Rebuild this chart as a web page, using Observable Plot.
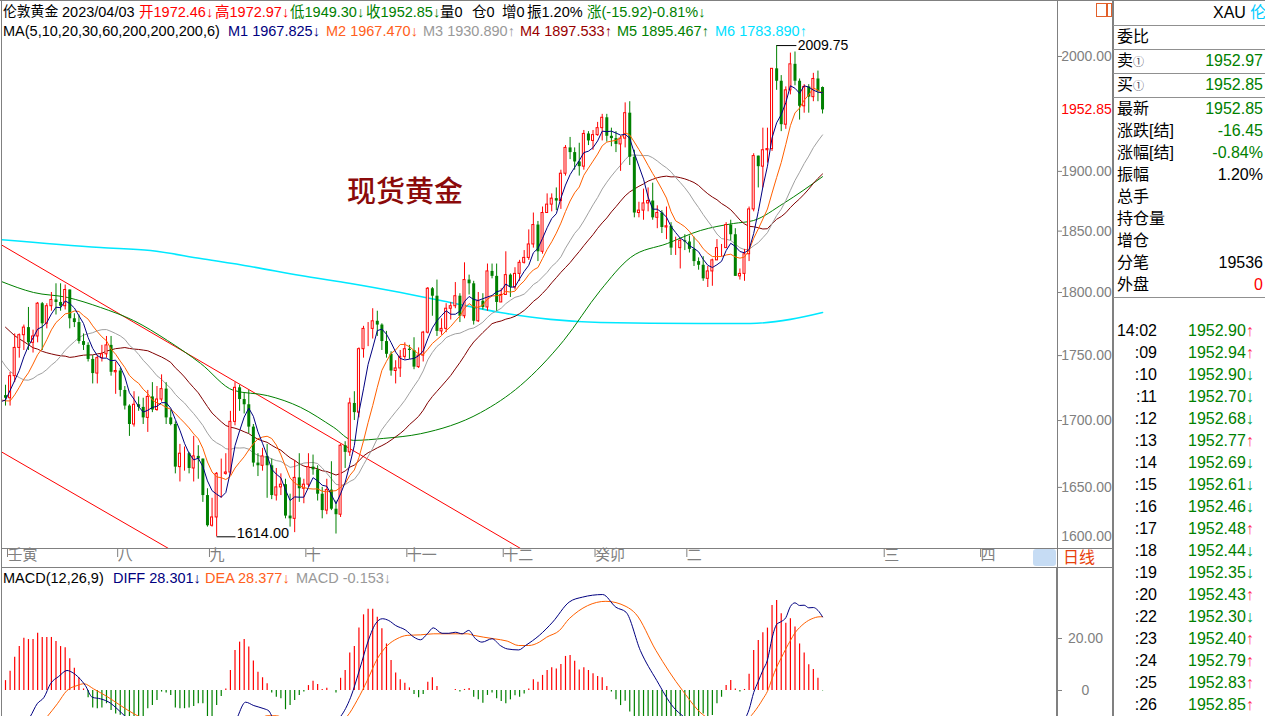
<!DOCTYPE html>
<html><head><meta charset="utf-8">
<script src="https://cdn.jsdelivr.net/npm/d3@7"></script>
<script src="https://cdn.jsdelivr.net/npm/@observablehq/plot@0.6"></script>
<style>
body{margin:0;background:#fff;}
#root{position:relative;width:1265px;height:716px;overflow:hidden;background:#fff;font-family:"Liberation Sans",Arial,"Noto Sans CJK SC",sans-serif;}
.t{position:absolute;white-space:nowrap;}
.ln{position:absolute;background:#808080;}
.abs{position:absolute;left:0;top:0;}
</style></head>
<body><div id="root"></div>
<script>
// ---------------- data ----------------
// closes before the first visible candle (only used by the moving averages)
const priorClose = [1834,1857,1840,1838,1832,1838,1822,1827,1823,1821,1817,1807,1811,1808,1764,1739,1740,1742,1734,1725,1735,1709,1708,1709,1711,1697,1718,1727,1719];
const open = [
1719,1717,1734,1756,1766,1772,1760,1765,1791,1775,
1789,1794,1792,1789,1802,1779,1776,1761,1758,1747,
1736,1748,1751,1758,1737,1738,1723,1711,1697,1712,
1710,1702,1718,1708,1716,1724,1702,1697,1665,1675,
1675,1664,1673,1671,1644,1622,1628,1660,1660,1661,
1699,1725,1716,1712,1695,1668,1666,1673,1666,1644,
1650,1652,1629,1627,1657,1649,1652,1665,1663,1645,
1633,1648,1634,1630,1681,1676,1713,1706,1755,1771,
1771,1777,1774,1761,1751,1738,1740,1749,1755,1754,
1741,1750,1768,1803,1797,1769,1771,1787,1789,1797,
1781,1810,1807,1777,1793,1788,1817,1813,1792,1798,
1814,1804,1815,1824,1828,1839,1855,1833,1865,1872,
1877,1875,1898,1920,1916,1908,1904,1932,1926,1931,
1937,1946,1930,1928,1923,1928,1950,1912,1865,1867,
1873,1875,1861,1865,1853,1854,1836,1836,1842,1841,
1835,1825,1822,1811,1817,1826,1836,1836,1855,1847,
1813,1815,1831,1868,1913,1904,1918,1919,1989,1978,
1940,1970,1993,1978,1956,1973,1964,1980,1972.46];
const high = [
1727,1737,1767,1767,1774,1788,1770,1792,1792,1791,
1800,1807,1807,1806,1802,1783,1782,1767,1760,1750,
1750,1758,1765,1765,1745,1740,1726,1712,1722,1718,
1717,1723,1729,1726,1735,1729,1708,1699,1682,1680,
1676,1688,1681,1671,1649,1642,1661,1671,1675,1707,
1729,1727,1721,1723,1697,1675,1679,1682,1671,1664,
1660,1656,1645,1670,1675,1656,1675,1674,1666,1650,
1656,1669,1640,1682,1684,1717,1722,1756,1773,1776,
1787,1785,1775,1769,1753,1746,1754,1760,1758,1764,
1756,1769,1804,1804,1810,1779,1791,1792,1808,1799,
1824,1814,1809,1800,1799,1823,1823,1823,1803,1833,
1815,1820,1826,1834,1851,1865,1858,1870,1881,1881,
1886,1901,1922,1929,1920,1924,1935,1934,1935,1942,
1949,1949,1937,1934,1930,1959,1960,1918,1874,1885,
1886,1890,1871,1867,1870,1857,1845,1843,1847,1846,
1845,1828,1829,1821,1827,1843,1839,1857,1859,1852,
1819,1835,1870,1915,1913,1937,1937,1989,2009.75,1983,
1973,2003,2004,1980,1975,1975,1985,1987,1972.97];
const low = [
1711,1711,1729,1748,1754,1754,1752,1760,1754,1771,
1785,1782,1785,1786,1771,1772,1759,1754,1745,1728,
1728,1745,1748,1734,1720,1718,1708,1688,1695,1707,
1697,1691,1706,1707,1714,1697,1696,1660,1654,1662,
1660,1654,1656,1639,1621,1621,1614,1642,1659,1659,
1696,1707,1705,1690,1665,1658,1662,1642,1641,1640,
1644,1627,1621,1617,1639,1638,1650,1659,1640,1627,
1630,1633,1616,1628,1664,1673,1700,1702,1748,1757,
1763,1765,1754,1748,1734,1728,1733,1747,1747,1739,
1740,1745,1767,1781,1765,1766,1768,1778,1787,1776,
1779,1798,1774,1776,1786,1785,1811,1785,1792,1798,
1796,1802,1809,1823,1826,1836,1825,1831,1865,1866,
1867,1868,1896,1910,1901,1896,1901,1922,1918,1930,
1926,1925,1921,1916,1900,1920,1905,1861,1861,1859,
1866,1859,1852,1848,1843,1830,1830,1819,1834,1832,
1821,1818,1809,1804,1805,1826,1829,1836,1842,1813,
1810,1809,1825,1866,1886,1886,1907,1917,1970,1934,
1936,1966,1974,1944,1950,1950,1960,1960,1949.30];
const close = [
1717,1734,1756,1766,1772,1760,1765,1791,1775,1789,
1794,1792,1789,1802,1779,1776,1761,1758,1747,1736,
1748,1751,1758,1737,1738,1723,1711,1697,1712,1710,
1702,1718,1708,1716,1724,1702,1697,1665,1675,1675,
1664,1673,1671,1644,1622,1628,1660,1660,1661,1699,
1725,1716,1712,1695,1668,1666,1673,1666,1644,1650,
1652,1629,1627,1657,1649,1652,1665,1663,1645,1633,
1648,1634,1630,1681,1676,1713,1706,1755,1771,1771,
1777,1774,1761,1751,1738,1740,1749,1755,1754,1741,
1750,1768,1803,1797,1769,1771,1787,1789,1797,1781,
1810,1807,1777,1793,1788,1817,1813,1792,1798,1814,
1804,1815,1824,1828,1839,1855,1833,1865,1872,1877,
1875,1898,1920,1916,1908,1904,1932,1926,1931,1937,
1946,1930,1928,1923,1928,1950,1912,1865,1867,1873,
1875,1861,1865,1853,1854,1836,1836,1842,1841,1835,
1825,1822,1811,1817,1826,1836,1836,1855,1847,1813,
1815,1831,1868,1913,1904,1918,1919,1989,1978,1940,
1970,1993,1978,1956,1973,1964,1980,1969,1952.85];

// MA60 and MA200 (candle index, price)
const ma60Idx = [-1,6.1,13.5,20.7,27.9,35.3,42.5,49.7,57.1,64.3,71.5,75.8,82.4,90.4,103.5,112.2,121.6,129.6,136.2,144.2,151.4,158.6,163,169.5,178];
const ma60Val = [1809,1800,1796,1788,1777.6,1761.8,1743.9,1723,1719,1710,1694.8,1685,1686.5,1690,1706,1726.8,1761.8,1801.7,1828.4,1839.8,1850.5,1856.3,1858.8,1873,1895.5];
const ma200Idx = [-1,20.7,31.6,42.5,53.4,64.3,75.2,86.1,96.9,107.8,118.7,129.6,151.4,162.3,171,178];
const ma200Val = [1843,1836.5,1834,1827.5,1821,1813.7,1807.3,1800,1792,1784,1778.5,1776.1,1775.3,1775.3,1778.5,1784];

// red channel lines (candle index, price)
const upperLineIdx = [-1,113], upperLineVal = [1838.9,1604.1];
const lowerLineIdx = [-1,37],  lowerLineVal = [1676.6,1602.8];

// MACD histogram per candle, DIFF/DEA read at sample points
const macdHist = [
3.8,7.4,12.8,16.9,20.1,19.6,19.6,22,20.4,20.4,
20.4,18.8,16.9,16.4,12.2,8.6,4.9,0.6,-2.8,-6.7,
-7,-6.7,-5.1,-7.7,-9,-9.5,-11,-12,-12,-11.5,
-10.5,-7,-5.8,-3.8,-0.6,-1,-1.9,-6.7,-7,-7,
-6.7,-6.2,-5.1,-5.1,-10.5,-11,-5.8,-2.3,0.6,7.7,
15.4,18.6,19.6,16.7,11.3,7,4.9,2.6,-1,-2.6,
-3.2,-7.4,-5.8,-3.8,-1.9,-0.6,1.9,3.6,2.3,0.4,
0.9,0,-1,4.7,7.7,14.4,16.9,24,29.1,31.2,
31.2,28.2,23.7,17.9,11.5,6.7,4.1,2.8,1,-1.5,
-2.8,-1.5,3.2,4.9,1.5,0,0,0,0.4,-0.6,
0.4,0.8,-2.6,-3.6,-4.9,-1.9,-1,-3.2,-4.2,-5.1,
-3.6,-2,-2.6,-1.3,0.6,4.1,3.2,5.8,7.7,8.7,
8.3,10,13.1,13.5,11.2,7.9,8.7,7.7,6.4,5.4,
4.9,1.5,-0.6,-3.6,-5.8,-4.1,-8.3,-12,-16,-18,
-20,-22,-23,-23,-22,-22,-21,-20,-17,-15,
-13,-11,-9,-10,-9.6,-5.1,-2.6,1.9,3.8,0.6,
-0.6,0.4,6.2,15.4,19.2,22.2,24,32.7,34.6,29.5,
25.9,27.6,24.4,17.9,14.4,9.9,8.1,4.7,-0.153];
const diffIdx = [0,3,5.4,6.9,8.4,9.8,11.6,13.4,14.5,16,17.4,18.9,20.7,22.9,24.3,26.1,28.5,32,37,42,45,47,49,50.6,52.3,54.1,56.3,57.4,58.1,60,63,66,69,71,73,75.2,77.3,78.8,80.6,82.1,83.5,85,87.1,89,90.4,91.9,93.2,95.1,96.6,98,99.5,100.9,102.4,103.8,106,107.8,109.3,111.8,113.3,116.3,119.2,122.8,125.7,130.1,133,135.2,138.3,141.9,145.5,147.7,150,152,154,156,158,160,161,162,163,164,165,166,167,168,169,170,171,172,173,174,175,176,177,178];
const diffVal = [-22,-15,-10,-5.1,-2.6,2.6,5.4,7.7,7,4.9,1.9,-2.6,-3.2,-4.9,-7,-10,-14,-17,-20,-24,-26,-25,-18,-10,-4.5,-5.8,-7,-7.9,-10,-12,-14,-13,-13.5,-12.5,-10,-2.6,9,17.9,25.6,27.6,26.9,25,23.3,20.5,19.5,21.8,24.1,22,22,22.4,21.8,23.1,19.9,18.6,19.9,17.3,16,15.6,17.3,21.2,26.3,34,35.9,36.9,32,30.1,15.4,3.8,-6.4,-10,-13,-14,-16,-14,-12,-12,-11,-7.3,-0.8,3.5,7.8,11.7,20.1,25.4,26.5,28,32.3,33.7,32.7,32.8,31.8,31.9,30.8,28.3];
const deaIdx = [0,3,5,9.1,11.3,13.4,15.6,17.1,19.2,22.1,25.1,28,29.1,32,37,42,46,49,51,53,55,57,59,61,63,66,69,72,74.4,76.6,78.8,81,83.2,85.3,87.5,90.4,93.3,100.6,102,106.4,109.3,111.8,114,116.3,117.9,120.7,122.8,130.8,135.2,137.3,141.7,147.5,152.5,154,156,158,160,162,163,164,165,166,167,168,169,170,171,172,173,174,175,176,177,178];
const deaVal = [-25,-22,-18,-10,-5.1,0,1.9,2.6,0.6,-2.3,-5.8,-9,-10,-13,-16,-21,-24,-22,-19.4,-15.1,-11.9,-9.7,-9.7,-11,-12,-13,-13.5,-12.5,-10,-3.8,3.8,12.2,17.3,19.9,21.2,21.4,21.8,21.8,21.2,19.9,19,17.3,17.3,18.6,20.5,23.1,27.6,34.3,32.3,29.5,15.4,0,-10,-11.1,-12,-11.3,-11.25,-10.4,-8.5,-6.1,-3.3,-0.3,4.5,9,12.5,16,19.2,22.2,24.2,25.8,27,27.8,28.3,28.38];

// axes
const priceTicks = [1650,1700,1750,1800,1850,1900,2000];
const monthTickIdx = [0,24,44,65,87,108,128,148,191,212];
const monthLabels = ["壬寅","八","九","十","十一","十二","癸卯","二","三","四"];
const macdTicks = [0,20];
const lastPrice = 1952.85;
const highMark = {i:168, p:2009.75};
const lowMark = {i:46, p:1614.00};

// ---------------- drawing ----------------
const root = document.getElementById("root");
const FONT = '"Liberation Sans",Arial,"Noto Sans CJK SC",sans-serif';
const RED = "#ff0000", GREEN = "#008000";
const xDomain = [-0.654, 229.19];

const bars = close.map((c,i)=>({i, o:open[i], h:high[i], l:low[i], c}));
const up = bars.filter(d=>d.c>=d.o), down = bars.filter(d=>d.c<d.o);
const series = priorClose.map((c,k)=>({i:k-priorClose.length, c})).concat(bars.map(d=>({i:d.i, c:d.c})));
const ma60 = ma60Idx.map((i,k)=>({i, v:ma60Val[k]}));
const ma200 = ma200Idx.map((i,k)=>({i, v:ma200Val[k]}));
const upperLine = upperLineIdx.map((i,k)=>({i, v:upperLineVal[k]}));
const lowerLine = lowerLineIdx.map((i,k)=>({i, v:lowerLineVal[k]}));
const hist = macdHist.map((v,i)=>({i,v}));
const diff = diffIdx.map((i,k)=>({i, v:diffVal[k]}));
const dea = deaIdx.map((i,k)=>({i, v:deaVal[k]}));
const monthMap = new Map(monthTickIdx.map((d,k)=>[d, monthLabels[k]]));

const ma = (k, color) => Plot.lineY(series, Plot.windowY({k, anchor:"end", strict:true}, {x:"i", y:"c", stroke:color, strokeWidth:1, clip:true}));

const main = Plot.plot({
  width:1113, height:567, marginLeft:2, marginRight:56, marginTop:0, marginBottom:19,
  style:{fontFamily:FONT, fontSize:"14px", background:"transparent", color:"#808080", overflow:"visible"},
  x:{domain:xDomain, label:null},
  y:{type:"log", domain:[1605.6, 2050.6], label:null},
  marks:[
    Plot.line(upperLine, {x:"i", y:"v", stroke:RED, strokeWidth:1, clip:true}),
    Plot.line(lowerLine, {x:"i", y:"v", stroke:RED, strokeWidth:1, clip:true}),
    Plot.line(ma200, {x:"i", y:"v", stroke:"#00e8ff", strokeWidth:1.6, curve:"monotone-x", clip:true}),
    Plot.line(ma60, {x:"i", y:"v", stroke:"#008000", strokeWidth:1, curve:"monotone-x", clip:true}),
    ma(30, "#800000"),
    ma(20, "#a0a0a0"),
    Plot.ruleX(bars, {x:"i", y1:"l", y2:"h", stroke:d=>d.c>=d.o?RED:GREEN, strokeWidth:1}),
    Plot.ruleX(down, {x:"i", y1:"o", y2:"c", stroke:GREEN, strokeWidth:3}),
    Plot.rect(up, {x1:d=>d.i-0.22, x2:d=>d.i+0.22, y1:"o", y2:"c", fill:"#fff", stroke:RED, strokeWidth:1}),
    ma(10, "#ff6000"),
    ma(5, "#000080"),
    Plot.link([highMark], {x1:"i", x2:d=>d.i+4.3, y1:"p", y2:"p", stroke:"#000", strokeWidth:1}),
    Plot.text([highMark], {x:"i", y:"p", dx:21, text:d=>d.p.toFixed(2), textAnchor:"start", fill:"#000", fontSize:14}),
    Plot.link([lowMark], {x1:"i", x2:d=>d.i+4.1, y1:"p", y2:"p", stroke:"#000", strokeWidth:1}),
    Plot.text([lowMark], {x:"i", y:"p", dx:20, dy:1, text:d=>d.p.toFixed(2), textAnchor:"start", lineAnchor:"bottom", fill:"#000", fontSize:14.5}),
    Plot.axisY(priceTicks, {anchor:"right", tickSize:4, tickPadding:25, textAnchor:"middle", tickFormat:d=>d.toFixed(2), fontSize:14, label:null}),
    Plot.text([lastPrice], {y:d=>d, frameAnchor:"right", dx:29, textAnchor:"middle", text:d=>d.toFixed(2), fill:RED, fontSize:14}),
    Plot.text(["1600.00"], {frameAnchor:"bottom-right", dx:29, dy:-8, textAnchor:"middle", text:d=>d, fill:"#808080", fontSize:14}),
    Plot.axisX(monthTickIdx, {anchor:"bottom", tickSize:9, tickPadding:-8, textAnchor:"start", dx:2, tickFormat:d=>monthMap.get(d), fontSize:15, label:null})
  ]
});
const w1 = document.createElement("div"); w1.className="abs"; w1.appendChild(main); root.appendChild(w1);

const macd = Plot.plot({
  width:1113, height:149, marginLeft:2, marginRight:56, marginTop:0, marginBottom:0,
  style:{fontFamily:FONT, fontSize:"14px", background:"transparent", color:"#808080", overflow:"visible"},
  x:{domain:xDomain, label:null, axis:null},
  y:{domain:[-10, 47.3], label:null},
  marks:[
    Plot.ruleX(hist.filter(d=>d.v>0), {x:"i", y1:0, y2:"v", stroke:RED, strokeWidth:1.2, clip:true}),
    Plot.ruleX(hist.filter(d=>d.v<0), {x:"i", y1:0, y2:"v", stroke:GREEN, strokeWidth:1.2, clip:true}),
    Plot.line(dea, {x:"i", y:"v", stroke:"#ff6000", strokeWidth:1, curve:"monotone-x", clip:true}),
    Plot.line(diff, {x:"i", y:"v", stroke:"#000080", strokeWidth:1, curve:"monotone-x", clip:true}),
    Plot.axisY(macdTicks, {anchor:"right", tickSize:4, tickPadding:24, textAnchor:"middle", tickFormat:d=>d===0?"0":d.toFixed(2), fontSize:14, label:null})
  ]
});
const w2 = document.createElement("div"); w2.className="abs"; w2.style.top="567px"; w2.appendChild(macd); root.appendChild(w2);

// ---------------- frame lines ----------------
function box(x,y,w,h,color){const e=document.createElement("div");e.className="ln";e.style.left=x+"px";e.style.top=y+"px";e.style.width=w+"px";e.style.height=h+"px";if(color)e.style.background=color;root.appendChild(e);return e;}
box(0,0,1265,1);
box(1,0,1,716);
box(1057,0,1,567); box(1056,567,2,149);
box(1112,0,2,716);
box(1,548,1112,1); box(1,567,1112,1);
[25,49,73,97,297].forEach(y=>box(1113,y,152,1,"#909090"));
const blue = box(1033,549,23,17,"#c6dcf4"); blue.style.borderRadius="3px";
const ic1 = box(1096,3,10,12,"transparent"); ic1.style.border="1px solid #e2602a";
const ic2 = box(1106,3,4,12,"transparent"); ic2.style.border="1px solid #e2602a";

// ---------------- texts ----------------
function T(x, yc, s, color, size, right){
  const e=document.createElement("div"); e.className="t";
  e.style.fontSize=size+"px"; e.style.lineHeight=size+"px"; e.style.height=size+"px";
  e.style.top=(yc-size/2)+"px"; e.style.color=color;
  if(right){e.style.right=(1265-x)+"px";} else {e.style.left=x+"px";}
  e.innerHTML=s; root.appendChild(e); return e;
}
const HS = 14.5;
T(3,12,"伦敦黄金","#000",13.8);
[[62,"2023/04/03","#000"],[139,"开1972.46↓",RED],[215,"高1972.97↓",RED],[290,"低1949.30↓",GREEN],[366,"收1952.85↓",GREEN],[440,"量0","#000"],[472,"仓0","#000"],[502,"增0","#000"],[527,"振1.20%","#000"],[587,"涨(-15.92)-0.81%↓",GREEN]]
  .forEach(([x,s,c])=>T(x,12,s,c,HS));
[[3,"MA(5,10,20,30,60,200,200,200,6)","#000"],[228,"M1 1967.825↓","#000080"],[326,"M2 1967.470↓","#ff6020"],[423,"M3 1930.890↑","#999999"],[520,"M4 1897.533↑","#990000"],[617,"M5 1895.467↑","#008000"],[715,"M6 1783.890↑","#00e0ff"]]
  .forEach(([x,s,c])=>T(x,31,s,c,HS));
[[3,"MACD(12,26,9)","#000"],[113,"DIFF 28.301↓","#000080"],[205,"DEA 28.377↓","#ff6020"],[296,"MACD -0.153↓","#999999"]]
  .forEach(([x,s,c])=>T(x,578,s,c,HS));
const title = T(347,189,"现货黄金","#8b0a0a",29); title.style.fontFamily='"Noto Sans CJK SC",sans-serif'; title.style.fontWeight="500";
T(1063,558,"日线","#e8400c",16);

// right panel (kept just inside the page edge so no text is clipped)
T(1213,13,'XAU <span style="color:#00ccff">伦</span>',"#000",16);
const rows = [["委比","",""],["卖<span style=\"font-size:11px;color:#445\">①</span>","1952.97",GREEN],["买<span style=\"font-size:11px;color:#445\">①</span>","1952.85",GREEN],["最新","1952.85",GREEN],["涨跌[结]","-16.45",GREEN],["涨幅[结]","-0.84%",GREEN],["振幅","1.20%","#000"],["总手","",""],["持仓量","",""],["增仓","",""],["分笔","19536","#000"],["外盘","0",RED]];
const rowY = [37,61,85,109,131,153,175,197,219,241,263,285];
rows.forEach(([a,b,c],k)=>{T(1117,rowY[k],a,"#000",16); if(b) T(1263,rowY[k],b,c,16,true);});
const ticksT = [":09",":10",":11",":12",":13",":14",":15",":16",":17",":18",":19",":20",":22",":23",":24",":25",":26"];
const times = ["14:02"].concat(ticksT);
const tprices = ["1952.90","1952.94","1952.90","1952.70","1952.68","1952.77","1952.69","1952.61","1952.46","1952.48","1952.44","1952.35","1952.43","1952.30","1952.40","1952.79","1952.83","1952.85"];
const tdirs = ["↑","↑","↓","↓","↓","↑","↓","↓","↓","↑","↓","↓","↑","↓","↑","↑","↑","↑"];
times.forEach((t,k)=>{
  const y = 331 + 22*k;
  T(1157,y,t,"#000",16,true);
  const col = tdirs[k]==="↑" ? "#ff3355" : "#00a050";
  T(1188,y,tprices[k]+'<span style="color:'+col+'">'+tdirs[k]+'</span>',GREEN,16);
});
</script>
</body></html>
